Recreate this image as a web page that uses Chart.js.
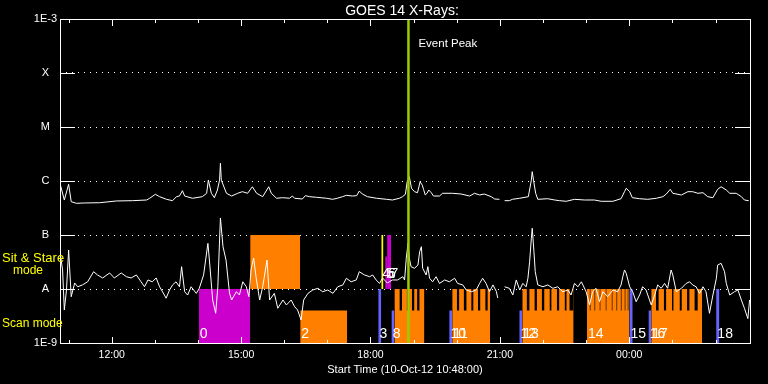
<!DOCTYPE html>
<html><head><meta charset="utf-8">
<script src="https://cdn.jsdelivr.net/npm/chart.js@4/dist/chart.umd.min.js"></script>
<style>html,body{margin:0;padding:0;background:#000;}canvas{display:block;}</style>
</head><body>
<canvas id="c" width="768" height="384"></canvas>
<script>
// ================= DATA =================
const titleText = 'GOES 14 X-Rays:';
const xAxisTitle = 'Start Time (10-Oct-12 10:48:00)';
const timeMin = 10.8, timeMax = 26.8;            // hours since 10-Oct-12 00:00
const hourTicks = [11,12,13,14,15,16,17,18,19,20,21,22,23,24,25,26];
const labelHours = [12,15,18,21,24];
const hourLabels = ['12:00','15:00','18:00','21:00','00:00'];
const fluxTicks = [1e-9,1e-8,1e-7,1e-6,1e-5,1e-4,1e-3];
const fluxLabels = ['1E-9','A','B','C','M','X','1E-3'];
const eventPeakTime = 18.88;
const eventLabel = 'Event Peak';

// GOES long channel (upper curve)
const longTimes = [10.81,10.90,11.00,11.06,11.18,11.37,11.72,12.11,12.48,12.81,12.88,13.01,13.11,13.27,13.41,13.50,13.57,13.64,13.69,13.87,
 14.10,14.20,14.24,14.31,14.38,14.45,14.50,14.52,14.54,14.66,14.78,14.92,15.03,15.15,15.26,15.36,15.50,15.64,15.70,15.82,
 15.96,16.12,16.19,16.24,16.42,16.49,16.59,16.75,16.98,17.12,17.23,17.35,17.44,17.58,17.68,17.74,17.81,17.93,18.14,18.37,
 18.51,18.67,18.74,18.81,18.85,18.90,18.95,19.02,19.09,19.15,19.20,19.23,19.27,19.31,19.35,19.41,19.46,19.60,19.67,19.90,
 20.10,20.30,20.41,20.53,20.64,20.80,20.88,20.99,21.05,21.11,21.22,21.29,21.46,21.66,21.73,21.75,21.78,21.83,21.88,22.11,
 22.27,22.38,22.54,22.73,22.96,23.19,23.35,23.62,23.81,23.89,23.93,24.01,24.07,24.24,24.43,24.63,24.78,24.86,24.95,25.01,
 25.21,25.36,25.47,25.59,25.71,25.82,25.94,26.05,26.13,26.25,26.33,26.48,26.60,26.67,26.77];
const longFlux = [8.4e-7,4.45e-7,8.7e-7,4.14e-7,3.86e-7,3.92e-7,3.96e-7,4.27e-7,4.32e-7,4.45e-7,4.79e-7,5.67e-7,5.12e-7,4.58e-7,4.32e-7,5.12e-7,5.27e-7,6.61e-7,5.27e-7,4.79e-7,
 5.12e-7,5.92e-7,1.04e-6,5.92e-7,4.91e-7,6.81e-7,1.04e-6,2.13e-6,1.04e-6,5.92e-7,5.27e-7,5.92e-7,6.34e-7,5.92e-7,7.83e-7,5.92e-7,5.12e-7,7.83e-7,5.92e-7,4.79e-7,
 4.91e-7,4.79e-7,5.27e-7,4.79e-7,4.64e-7,5.35e-7,5.12e-7,4.99e-7,4.79e-7,4.58e-7,4.79e-7,5.12e-7,5.43e-7,5.27e-7,5.35e-7,6.53e-7,5.74e-7,5.12e-7,4.79e-7,4.58e-7,
 4.45e-7,4.79e-7,5.12e-7,5.67e-7,9.7e-7,1.2e-6,7.33e-7,6.34e-7,6.07e-7,9.7e-7,8.4e-7,7.02e-7,5.51e-7,5.92e-7,6.81e-7,6.07e-7,5.27e-7,5.27e-7,5.92e-7,5.92e-7,
 5.74e-7,5.27e-7,5.92e-7,5.51e-7,5.74e-7,5.12e-7,4.64e-7,4.58e-7,null,4.32e-7,4.32e-7,4.58e-7,4.79e-7,5.12e-7,1.04e-6,1.49e-6,1.04e-6,5.92e-7,4.58e-7,4.70e-7,
 4.45e-7,4.32e-7,4.21e-7,4.58e-7,4.45e-7,4.45e-7,4.21e-7,4.21e-7,4.70e-7,6.34e-7,7.33e-7,6.34e-7,4.91e-7,4.70e-7,4.58e-7,4.79e-7,5.12e-7,5.74e-7,7.02e-7,5.92e-7,
 5.51e-7,6.34e-7,6.34e-7,5.92e-7,6.07e-7,5.12e-7,4.91e-7,7.02e-7,7.83e-7,6.81e-7,5.92e-7,5.92e-7,5.12e-7,4.45e-7,4.32e-7];

// GOES short channel (lower curve)
const shortTimes = [10.81,10.86,10.90,10.95,11.00,11.06,11.14,11.21,11.32,11.44,11.58,11.67,11.79,11.95,12.06,12.22,12.34,12.45,12.57,12.68,
 12.76,12.84,12.94,13.03,13.11,13.22,13.26,13.34,13.41,13.49,13.57,13.62,13.69,13.76,13.84,13.96,14.03,14.13,14.23,14.27,
 14.34,14.41,14.46,14.50,14.52,14.58,14.65,14.73,14.78,14.89,14.96,15.04,15.12,15.18,15.23,15.29,15.35,15.43,15.50,15.60,
 15.66,15.77,15.85,15.97,16.05,16.16,16.24,16.31,16.39,16.45,16.55,16.66,16.78,16.89,17.01,17.13,17.24,17.36,17.44,17.55,
 17.67,17.74,17.86,17.98,18.05,18.13,18.21,18.28,18.39,18.51,18.63,18.75,18.79,18.83,18.87,18.90,18.94,19.02,19.10,19.14,
 19.18,19.21,19.29,19.33,19.37,19.44,19.52,19.60,19.72,19.83,19.95,20.02,20.14,20.22,20.34,20.45,20.53,20.60,20.68,20.76,
 20.84,20.92,20.95,21.02,21.11,21.22,21.30,21.38,21.46,21.53,21.61,21.65,21.69,21.73,21.75,21.79,21.82,21.88,22.00,22.11,
 22.23,22.34,22.46,22.58,22.65,22.73,22.81,22.89,23.00,23.08,23.15,23.23,23.31,23.39,23.50,23.62,23.73,23.81,23.85,23.89,
 23.93,24.01,24.08,24.16,24.24,24.31,24.39,24.51,24.59,24.66,24.74,24.82,24.89,24.97,25.01,25.09,25.21,25.32,25.40,25.47,
 25.55,25.63,25.71,25.78,25.86,25.94,26.02,26.05,26.13,26.21,26.25,26.33,26.44,26.52,26.60,26.67,26.75,26.79];
const shortFlux = [4.27e-8,2.25e-8,4.08e-9,9.58e-9,5.27e-8,7.2e-9,1.29e-8,1.10e-8,1.19e-8,1.36e-8,2.09e-8,1.82e-8,1.60e-8,1.98e-8,1.60e-8,1.98e-8,1.69e-8,1.60e-8,1.82e-8,1.36e-8,
 1.10e-8,1.47e-8,1.36e-8,1.60e-8,1.10e-8,7.74e-9,6.75e-9,9.58e-9,1.19e-8,1.36e-8,1.10e-8,2.59e-8,8.91e-9,7.74e-9,1.10e-8,8.3e-9,1.03e-8,1.82e-8,7.01e-8,3.03e-8,
 6.25e-9,3.55e-9,1.10e-8,8.07e-8,2.07e-7,6.07e-8,3.44e-8,8.43e-9,6.25e-9,8.91e-9,7.74e-9,1.36e-8,1.10e-8,7.2e-9,2.25e-8,3.75e-8,1.58e-8,6.25e-9,1.10e-8,3.44e-8,
 6.25e-9,8.3e-9,4.4e-9,6.25e-9,5.06e-9,6.25e-9,4.7e-9,4.08e-9,2.67e-9,6.25e-9,8.3e-9,9.58e-9,1.03e-8,8.91e-9,9.58e-9,8.3e-9,1.10e-8,1.19e-8,1.58e-8,1.36e-8,
 1.47e-8,2.09e-8,1.82e-8,1.69e-8,1.82e-8,1.47e-8,1.27e-8,1.60e-8,1.29e-8,1.47e-8,1.47e-8,1.69e-8,1.47e-8,3.72e-8,7.01e-8,3.72e-8,2.59e-8,2.42e-8,2.78e-8,4.91e-8,
 6.07e-8,2.42e-8,1.82e-8,2.59e-8,1.58e-8,1.36e-8,1.69e-8,1.27e-8,1.47e-8,1.36e-8,1.58e-8,1.27e-8,1.19e-8,9.58e-9,8.91e-9,9.58e-9,1.27e-8,1.58e-8,1.27e-8,8.91e-9,
 1.19e-8,8.91e-9,6.81e-9,null,1.10e-8,1.03e-8,7.74e-9,1.47e-8,9.58e-9,1.27e-8,1.10e-8,1.58e-8,3.21e-8,8.69e-8,1.33e-7,4.91e-8,2.09e-8,1.19e-8,1.10e-8,1.19e-8,
 1.03e-8,1.10e-8,8.91e-9,9.58e-9,7.74e-9,1.27e-8,1.10e-8,1.36e-8,8.91e-9,5.06e-9,8.91e-9,1.03e-8,5.82e-9,8.91e-9,7.2e-9,9.58e-9,8.91e-9,1.19e-8,1.69e-8,2.25e-8,
 1.95e-8,1.10e-8,8.91e-9,5.82e-9,7.74e-9,1.10e-8,9.58e-9,5.06e-9,7.74e-9,1.19e-8,1.03e-8,1.27e-8,1.03e-8,2.25e-8,1.82e-8,8.91e-9,1.03e-8,1.27e-8,1.36e-8,1.19e-8,
 1.10e-8,8.3e-9,1.10e-8,8.91e-9,3.55e-9,7.74e-9,1.58e-8,2.78e-8,2.99e-8,2.09e-8,1.27e-8,7.74e-9,8.91e-9,9.58e-9,6.25e-9,4.4e-9,2.83e-9,6.25e-9];

// Observation blocks (Sit & Stare band: 1e-8..1e-7, Scan band: 1e-9..1e-8)
const obsIds   = ['0','1','2','3','4','5','6','8','9','10','11','12','13','14','15','16','17','18'];
const obsStart = [14.02,15.21,16.37,18.18,18.25,18.34,18.385,18.485,18.555,19.825,19.895,21.45,21.52,23.02,24.005,24.445,24.51,26.015];
const obsEnd   = [15.21,16.37,17.46,18.25,18.30,18.385,18.48,18.555,19.25,19.895,20.775,21.52,22.71,24.005,24.08,24.51,25.69,26.09];
const obsLow   = [1e-9,1e-8,1e-9,1e-9,1e-8,1e-8,1e-8,1e-9,1e-9,1e-9,1e-9,1e-9,1e-9,1e-9,1e-9,1e-9,1e-9,1e-9];
const obsHigh  = [1e-8,1e-7,4e-9,1e-8,1e-7,4e-8,1e-7,4e-9,1e-8,4e-9,1e-8,4e-9,1e-8,1e-8,1e-8,4e-9,1e-8,1e-8];
const obsKind  = ['m','o','o','b','y','m','m','b','o','b','o','b','o','o','b','b','o','b'];
// gaps between individual scan rasters (upper half of scan band)
const rasterGapStart = [18.67,18.84,18.96,19.08, 20.00,20.16,20.335,20.49,20.66,
 21.62,21.80,21.97,22.15,22.32,22.50,22.61, 23.08,23.19,23.31,23.45,23.59,23.70,23.80,23.89,23.96,
 24.62,24.80,24.99,25.165,25.34,25.51];
const rasterGapEnd   = [18.73,18.90,19.02,19.14, 20.06,20.23,20.39,20.55,20.72,
 21.69,21.86,22.035,22.20,22.38,22.55,22.71, 23.105,23.215,23.335,23.475,23.615,23.725,23.825,23.915,23.985,
 24.685,24.86,25.03,25.22,25.40,25.59];
const rasterGapLow = 4e-9, rasterGapHigh = 1e-8;
// block number labels: id, band ('scan' or 'sit')
const numLabelIds  = ['0','2','3','4','5','6','7','8','10','11','12','13','14','15','16','17','18'];
const numLabelTime = [14.02,16.37,18.185,18.25,18.34,18.385,18.44,18.49,19.83,19.895,21.455,21.52,23.02,24.005,24.45,24.51,26.02];
const numLabelBand = ['scan','scan','scan','sit','sit','sit','sit','scan','scan','scan','scan','scan','scan','scan','scan','scan','scan'];

// ================= STYLE =================
const kindColor = {m:'#cc00cc', o:'#ff8000', b:'#6464ff', y:'#ffff00'};
const FONT = "'Liberation Sans', Arial, sans-serif";

const datasets = [];
datasets.push({label:'event', data:[{x:eventPeakTime,y:1e-9},{x:eventPeakTime,y:1e-3}], borderColor:'#9acd00', borderWidth:2.5, pointRadius:0, fill:false, order:0});
datasets.push({label:'short', data:shortTimes.map((t,i)=>({x:t,y:shortFlux[i]})), borderColor:'#ffffff', borderWidth:1, pointRadius:0, fill:false, spanGaps:false, order:1, tension:0});
datasets.push({label:'long', data:longTimes.map((t,i)=>({x:t,y:longFlux[i]})), borderColor:'#ffffff', borderWidth:1, pointRadius:0, fill:false, spanGaps:false, order:1, tension:0});
rasterGapStart.forEach((t,i)=>{
  datasets.push({label:'gap'+i, data:[{x:t,y:rasterGapHigh},{x:rasterGapEnd[i],y:rasterGapHigh}], borderWidth:0, borderColor:'rgba(0,0,0,0)', backgroundColor:'#000', pointRadius:0, fill:{value:rasterGapLow}, order:2});
});
obsStart.forEach((t,i)=>{
  datasets.push({label:'obs'+obsIds[i], data:[{x:t,y:obsHigh[i]},{x:obsEnd[i],y:obsHigh[i]}], borderWidth:0, borderColor:'rgba(0,0,0,0)', backgroundColor:kindColor[obsKind[i]], pointRadius:0, fill:{value:obsLow[i]}, order:100-i});
});

const decor = {
  id:'decor',
  afterDatasetsDraw(chart){
    const {ctx, chartArea:a, scales:{x,y}} = chart;
    ctx.save();
    // block numbers
    ctx.fillStyle='#fff'; ctx.font='14px '+FONT; ctx.textAlign='left'; ctx.textBaseline='alphabetic';
    numLabelIds.forEach((s,i)=>{
      const px = x.getPixelForValue(numLabelTime[i]) + 1;
      const py = numLabelBand[i]==='scan' ? a.bottom - 5 : y.getPixelForValue(1e-8) - 11;
      ctx.fillText(s, px, py);
    });
    // frame
    ctx.strokeStyle='#fff'; ctx.lineWidth=1;
    ctx.strokeRect(a.left+0.5, a.top+0.5, a.right-a.left, a.bottom-a.top);
    ctx.beginPath();
    fluxTicks.slice(1,-1).forEach(v=>{
      const py = Math.round(y.getPixelForValue(v))+0.5;
      ctx.moveTo(a.left, py); ctx.lineTo(a.left+15, py);
      ctx.moveTo(a.right-15, py); ctx.lineTo(a.right+1, py);
    });
    hourTicks.forEach(h=>{
      const px = Math.round(x.getPixelForValue(h))+0.5;
      const len = (h%3===0) ? 6 : 3;
      ctx.moveTo(px, a.bottom); ctx.lineTo(px, a.bottom-len);
      ctx.moveTo(px, a.top+1); ctx.lineTo(px, a.top+1+len);
    });
    ctx.stroke();
    // title & event label
    ctx.fillStyle='#fff';
    ctx.font='14px '+FONT; ctx.textAlign='center';
    ctx.fillText(titleText, (a.left+a.right)/2 - 3, a.top - 4);
    ctx.font='11.5px '+FONT; ctx.textAlign='left';
    ctx.fillText(eventLabel, x.getPixelForValue(eventPeakTime)+10, a.top+28);
    // mode labels
    ctx.fillStyle='#ffff00';
    const yA = y.getPixelForValue(1e-8);
    ctx.font='13px '+FONT;
    ctx.fillText('Sit & Stare', 2, yA-27);
    ctx.font='12px '+FONT;
    ctx.fillText('mode', 13, yA-15);
    ctx.fillText('Scan mode', 2, yA+38);
    ctx.restore();
  }
};

new Chart(document.getElementById('c'), {
  type:'line',
  data:{datasets},
  plugins:[decor],
  options:{
    responsive:false, animation:false, events:[],
    layout:{padding:{top:19, right:18, left:0, bottom:0}},
    plugins:{legend:{display:false}, tooltip:{enabled:false}, title:{display:false}},
    scales:{
      x:{type:'linear', min:timeMin, max:timeMax,
        afterFit(s){ s.height = 41; },
        afterBuildTicks(s){ s.ticks = labelHours.map(v=>({value:v})); },
        ticks:{callback:(v,i)=>hourLabels[i], color:'#fff', font:{family:FONT, size:10.5}, padding:6, maxRotation:0, autoSkip:false},
        grid:{display:false, drawTicks:false},
        border:{display:false},
        title:{display:true, text:xAxisTitle, color:'#fff', font:{family:FONT, size:11}, padding:{top:0, bottom:7}}
      },
      y:{type:'logarithmic', min:1e-9, max:1e-3,
        afterFit(s){ s.width = 60; },
        afterBuildTicks(s){ s.ticks = fluxTicks.map(v=>({value:v})); },
        ticks:{callback:(v,i)=>fluxLabels[i], color:'#fff', font:{family:FONT, size:11}, padding:3, crossAlign:'center', autoSkip:false},
        grid:{color:'#fff', lineWidth:1, drawTicks:false},
        border:{display:false, dash:[1,5]}
      }
    }
  }
});
</script>
</body></html>
